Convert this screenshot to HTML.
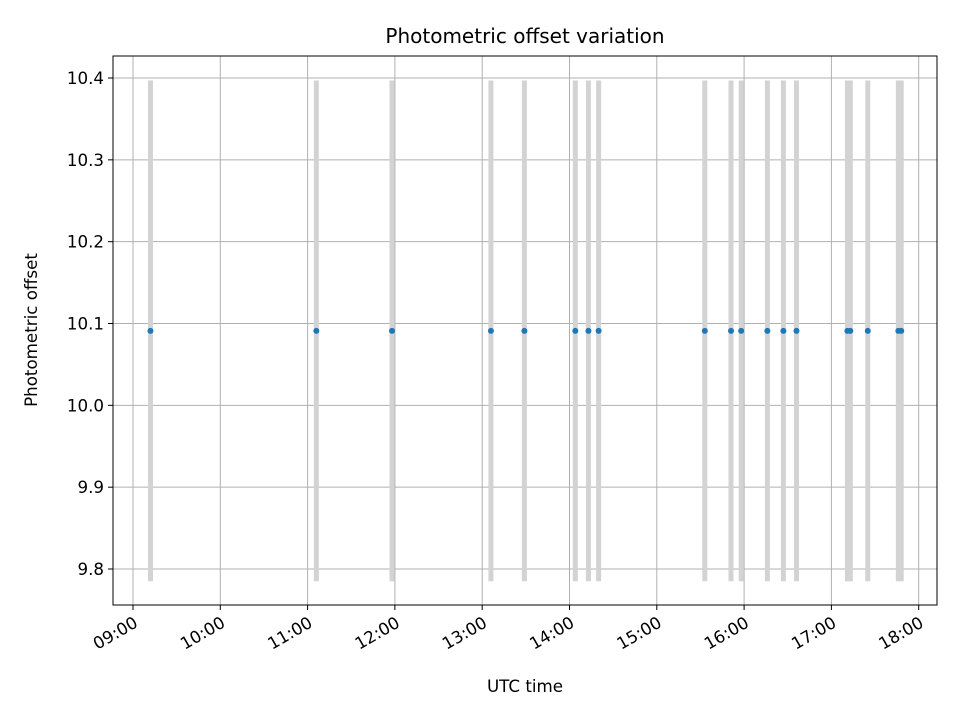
<!DOCTYPE html>
<html><head><meta charset="utf-8"><style>
body{margin:0;background:#fff;font-family:"DejaVu Sans","Liberation Sans",sans-serif}
</style></head><body>
<svg id="chart" width="960" height="720" xmlns="http://www.w3.org/2000/svg" font-family="DejaVu Sans, Liberation Sans, sans-serif">
<rect width="960" height="720" fill="#fff"/>
<g id="grid"></g><g id="errs"></g><g id="pts"></g><g id="axes"></g>
</svg>
<script>
const times = ["09:12","11:06","11:58","13:06","13:29","14:04","14:13","14:20","15:33","15:51","15:58","16:16","16:27","16:36","17:11","17:13","17:25","17:46","17:48"];
const offsets = [10.091,10.091,10.091,10.091,10.091,10.091,10.091,10.091,10.091,10.091,10.091,10.091,10.091,10.091,10.091,10.091,10.091,10.091,10.091];
const errors = [0.306,0.306,0.306,0.306,0.306,0.306,0.306,0.306,0.306,0.306,0.306,0.306,0.306,0.306,0.306,0.306,0.306,0.306,0.306];
const xTicks = ["09:00","10:00","11:00","12:00","13:00","14:00","15:00","16:00","17:00","18:00"];
const yTicks = [9.8,9.9,10.0,10.1,10.2,10.3,10.4];

const L=113,R=937,T=56,B=605;
const toH=s=>{const [h,m]=s.split(':').map(Number);return h+m/60;};
const x=h=>133+(h-9)*87.3;
const y=v=>569-(v-9.8)*818.3;
const NS="http://www.w3.org/2000/svg";
function mk(tag,attrs,parent,text){const e=document.createElementNS(NS,tag);for(const k in attrs)e.setAttribute(k,attrs[k]);if(text!==undefined)e.textContent=text;document.getElementById(parent).appendChild(e);return e;}

yTicks.forEach(v=>{
 const g=mk('line',{x1:L,x2:R,y1:y(v),y2:y(v),stroke:'#b0b0b0','stroke-width':1},'grid');
 
 const t=mk('line',{x1:L-5,x2:L,y1:y(v),y2:y(v),stroke:'#000'},'axes');
 
 const l=mk('text',{x:L-9,y:y(v)+6,'text-anchor':'end','font-size':16.7},'axes',v.toFixed(1));
 
});
xTicks.forEach(s=>{
 const px=x(toH(s));
 const g=mk('line',{x1:px,x2:px,y1:T,y2:B,stroke:'#b0b0b0','stroke-width':1},'grid');
 
 const t=mk('line',{x1:px,x2:px,y1:B,y2:B+5,stroke:'#000'},'axes');
 
 const l=mk('text',{x:px+6,y:B+21,'text-anchor':'end','font-size':16.7,transform:`rotate(-30 ${px+6} ${B+21})`},'axes',s);
 
});
times.forEach((s,i)=>{
 const px=x(toH(s));
 const e=mk('line',{x1:px,x2:px,y1:y(offsets[i]+errors[i]),y2:y(offsets[i]-errors[i]),stroke:'#d3d3d3','stroke-width':5},'errs');
 
 const c=mk('circle',{cx:px,cy:y(offsets[i]),r:3,fill:'#1f77b4'},'pts');
 
});
const f=mk('rect',{x:L,y:T,width:R-L,height:B-T,fill:'none',stroke:'#000','stroke-width':1},'axes');

const ti=mk('text',{x:525,y:43,'text-anchor':'middle','font-size':20},'axes','Photometric offset variation');

const xt=mk('text',{x:525,y:692,'text-anchor':'middle','font-size':16.7},'axes','UTC time');

const yt=mk('text',{x:37,y:330,'text-anchor':'middle','font-size':16.7,transform:'rotate(-90 37 330)'},'axes','Photometric offset');

</script>
</body></html>
